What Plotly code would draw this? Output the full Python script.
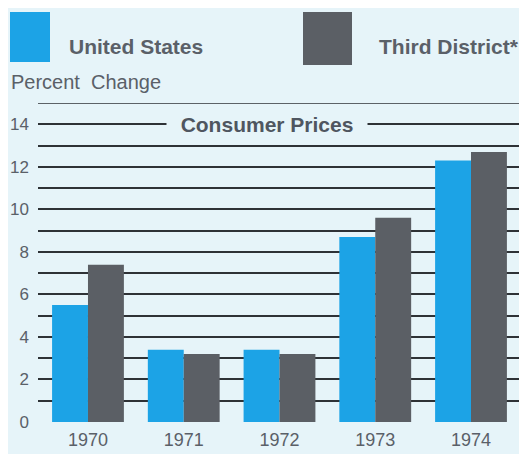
import plotly.graph_objects as go

years = ["1970", "1971", "1972", "1973", "1974"]
united_states = [5.5, 3.4, 3.4, 8.7, 12.3]
third_district = [7.4, 3.2, 3.2, 9.6, 12.7]
y_tick_vals = [0, 2, 4, 6, 8, 10, 12, 14]
y_tick_text = ["0", "2", "4", "6", "8", "10", "12", "14"]

BG = "#e6f4f9"
BLUE = "#1ca3e6"
GRAY = "#5b5f65"
TXT = "#5a6068"
LINE = "#2e3236"

OFF = 8  # page body margin
W, H = 527 - OFF, 454 - OFF
L, R, T, B = 38 - OFF, 4, 103 - OFF, 32
PW, PH = W - L - R, H - T - B


def px(xp):
    return (xp - OFF - L) / PW


def py(yp):
    return (H - B - (yp - OFF)) / PH


fig = go.Figure()
fig.add_trace(go.Bar(x=list(range(len(years))), y=united_states, name="United States",
                     marker=dict(color=BLUE, line=dict(width=0))))
fig.add_trace(go.Bar(x=list(range(len(years))), y=third_district, name="Third District*",
                     marker=dict(color=GRAY, line=dict(width=0))))

fig.update_layout(
    width=W, height=H,
    margin=dict(l=L, r=R, t=T, b=B, autoexpand=False),
    paper_bgcolor=BG, plot_bgcolor=BG,
    barmode="group", bargap=0.25, bargroupgap=0,
    showlegend=False,
    font=dict(family="Liberation Sans, Arial", color=TXT, size=16),
    xaxis=dict(range=[-0.522, 4.543], tickvals=list(range(len(years))), ticktext=years,
               showgrid=False, zeroline=False, showline=False, ticks="", automargin=False,
               tickfont=dict(size=18, color=TXT), ticklabelstandoff=5),
    yaxis=dict(range=[0, 15], tickvals=y_tick_vals, ticktext=y_tick_text, automargin=False,
               showgrid=True, gridcolor=LINE, gridwidth=1.5,
               minor=dict(dtick=1, tick0=0, showgrid=True, gridcolor=LINE, gridwidth=1.5),
               zeroline=False, showline=False, ticks="",
               tickfont=dict(size=17, color=TXT), ticklabelstandoff=8),
)
# extra top line at 15
fig.add_shape(type="line", xref="paper", yref="y", x0=0, x1=1, y0=15, y1=15,
              line=dict(color=LINE, width=1.5), layer="below")

# title over the 14 line
fig.add_annotation(x=px(267), xref="paper", y=14, yref="y", text="<b>Consumer Prices</b>",
                   showarrow=False, xanchor="center", yanchor="middle",
                   font=dict(family="Liberation Sans, Arial", size=21, color="#4f5660"),
                   bgcolor=BG, borderpad=0, width=200)

# legend
fig.add_shape(type="rect", xref="paper", yref="paper", x0=px(10), x1=px(50),
              y0=py(62), y1=py(12), fillcolor=BLUE, line=dict(width=0))
fig.add_shape(type="rect", xref="paper", yref="paper", x0=px(303), x1=px(352),
              y0=py(65), y1=py(12), fillcolor=GRAY, line=dict(width=0))
fig.add_annotation(xref="paper", yref="paper", x=px(67), y=py(46), text="<b>United States</b>",
                   showarrow=False, xanchor="left", yanchor="middle",
                   font=dict(family="Liberation Sans, Arial", size=21, color=TXT))
fig.add_annotation(xref="paper", yref="paper", x=px(377), y=py(47), text="<b>Third District*</b>",
                   showarrow=False, xanchor="left", yanchor="middle",
                   font=dict(family="Liberation Sans, Arial", size=21, color=TXT))
fig.add_annotation(xref="paper", yref="paper", x=px(9), y=py(82), text="Percent  Change",
                   showarrow=False, xanchor="left", yanchor="middle",
                   font=dict(size=20, color=TXT))

fig.write_html("out.html")
